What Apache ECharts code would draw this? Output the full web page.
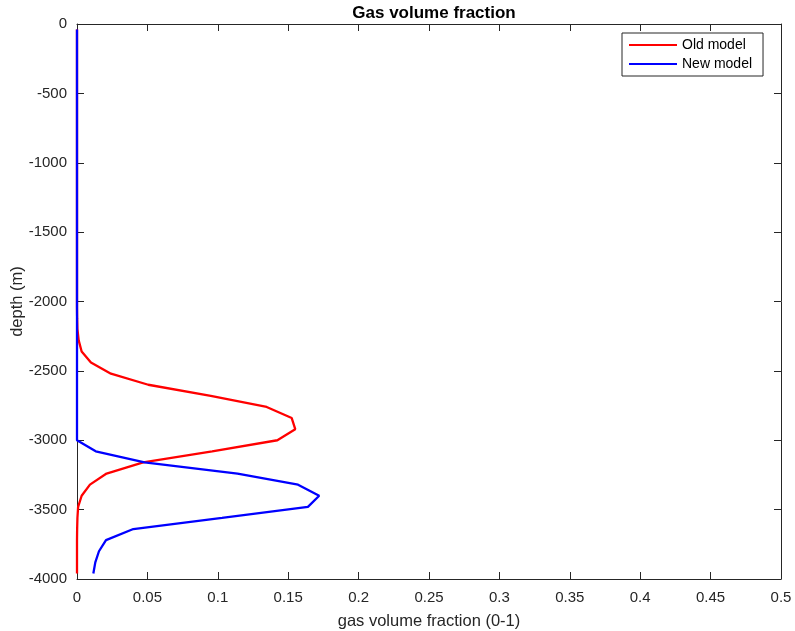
<!DOCTYPE html>
<html>
<head>
<meta charset="utf-8">
<script src="https://cdn.jsdelivr.net/npm/echarts@6/dist/echarts.min.js"></script>
<style>html,body{margin:0;padding:0;background:#fff;}#c{width:795px;height:631px;}</style>
</head>
<body>
<div id="c"></div>
<script>
var depths = [-40, -120, -200, -280, -360, -440, -520, -600, -680, -760,
  -840, -920, -1000, -1080, -1160, -1240, -1320, -1400, -1480, -1560,
  -1640, -1720, -1800, -1880, -1960, -2040, -2120, -2200, -2280, -2360,
  -2440, -2520, -2600, -2680, -2760, -2840, -2920, -3000, -3080, -3160,
  -3240, -3320, -3400, -3480, -3560, -3640, -3720, -3800, -3880, -3960];

var oldModel = [0, 0, 0, 0, 0, 0, 0, 0, 0, 0,
  0, 0, 0, 0, 0, 0, 0, 0, 0, 0,
  0, 0, 0, 0, 0, 0, 0.0001, 0.0003, 0.0012, 0.0033,
  0.0099, 0.0241, 0.0506, 0.095, 0.1347, 0.1525, 0.155, 0.1423, 0.096, 0.047,
  0.021, 0.0092, 0.0033, 0.0008, 0.0003, 0.0001, 0, 0, 0, 0];

var newModel = [0, 0, 0, 0, 0, 0, 0, 0, 0, 0,
  0, 0, 0, 0, 0, 0, 0, 0, 0, 0,
  0, 0, 0, 0, 0, 0, 0, 0, 0, 0,
  0, 0, 0, 0, 0, 0, 0, 0, 0.0133, 0.048,
  0.114, 0.157, 0.172, 0.164, 0.103, 0.040, 0.0206, 0.0156, 0.013, 0.0116];

var seriesNames = ['Old model', 'New model'];
var titleText = 'Gas volume fraction';
var xName = 'gas volume fraction (0-1)';
var yName = 'depth (m)';

function pairs(vals) {
  return vals.map(function (v, i) { return [v, depths[i]]; });
}

var axisCol = '#262626';
var font = 'Liberation Sans, Arial, Helvetica, sans-serif';

var chart = echarts.init(document.getElementById('c'));
chart.setOption({
  animation: false,
  backgroundColor: '#fff',
  textStyle: { fontFamily: font },
  title: {
    text: titleText, left: 429, top: 0, textAlign: 'center',
    textStyle: { fontSize: 17, fontWeight: 'bold', color: '#000', fontFamily: font }
  },
  legend: {
    orient: 'vertical', left: 622, top: 33,
    padding: [5, 11, 5, 7],
    itemWidth: 48, itemHeight: 2, itemGap: 5,
    borderColor: '#262626', borderWidth: 1, backgroundColor: '#fff',
    icon: 'rect',
    textStyle: { fontSize: 14, color: '#000', fontFamily: font, lineHeight: 14 },
    data: seriesNames
  },
  grid: { left: 77, right: 14, top: 24, bottom: 52, containLabel: false, outerBoundsMode: 'none' },
  xAxis: [{
    type: 'value', min: 0, max: 0.5, interval: 0.05, position: 'bottom',
    name: xName, nameLocation: 'middle', nameGap: 34, nameMoveOverlap: false,
    nameTextStyle: { fontSize: 16.5, color: axisCol, fontFamily: font },
    axisLine: { show: true, onZero: false, lineStyle: { color: axisCol, width: 1 } },
    axisTick: { show: true, inside: true, length: 7, lineStyle: { color: axisCol } },
    axisLabel: { fontSize: 15, color: axisCol, margin: 11, fontFamily: font,
      formatter: function (v) { return String(+v.toFixed(2)); } },
    splitLine: { show: false }
  }, {
    type: 'value', min: 0, max: 0.5, interval: 0.05, position: 'top',
    axisLine: { show: true, onZero: false, lineStyle: { color: axisCol, width: 1 } },
    axisTick: { show: true, inside: true, length: 7, lineStyle: { color: axisCol } },
    axisLabel: { show: false }, splitLine: { show: false }
  }],
  yAxis: [{
    type: 'value', min: -4000, max: 0, interval: 500, position: 'left',
    name: yName, nameLocation: 'middle', nameGap: 51, nameMoveOverlap: false,
    nameTextStyle: { fontSize: 16.5, color: axisCol, fontFamily: font },
    axisLine: { show: true, onZero: false, lineStyle: { color: axisCol, width: 1 } },
    axisTick: { show: true, inside: true, length: 7, lineStyle: { color: axisCol } },
    axisLabel: { fontSize: 15, color: axisCol, margin: 10, fontFamily: font,
      formatter: function (v) { return String(v); } },
    splitLine: { show: false }
  }, {
    type: 'value', min: -4000, max: 0, interval: 500, position: 'right',
    axisLine: { show: true, onZero: false, lineStyle: { color: axisCol, width: 1 } },
    axisTick: { show: true, inside: true, length: 7, lineStyle: { color: axisCol } },
    axisLabel: { show: false }, splitLine: { show: false }
  }],
  series: [{
    name: seriesNames[0], type: 'line', xAxisIndex: 0, yAxisIndex: 0,
    data: pairs(oldModel), showSymbol: false, symbol: 'none',
    lineStyle: { color: '#ff0000', width: 2.3 }, itemStyle: { color: '#ff0000' }
  }, {
    name: seriesNames[1], type: 'line', xAxisIndex: 0, yAxisIndex: 0,
    data: pairs(newModel), showSymbol: false, symbol: 'none',
    lineStyle: { color: '#0000ff', width: 2.3 }, itemStyle: { color: '#0000ff' }
  }]
});
</script>
</body>
</html>
